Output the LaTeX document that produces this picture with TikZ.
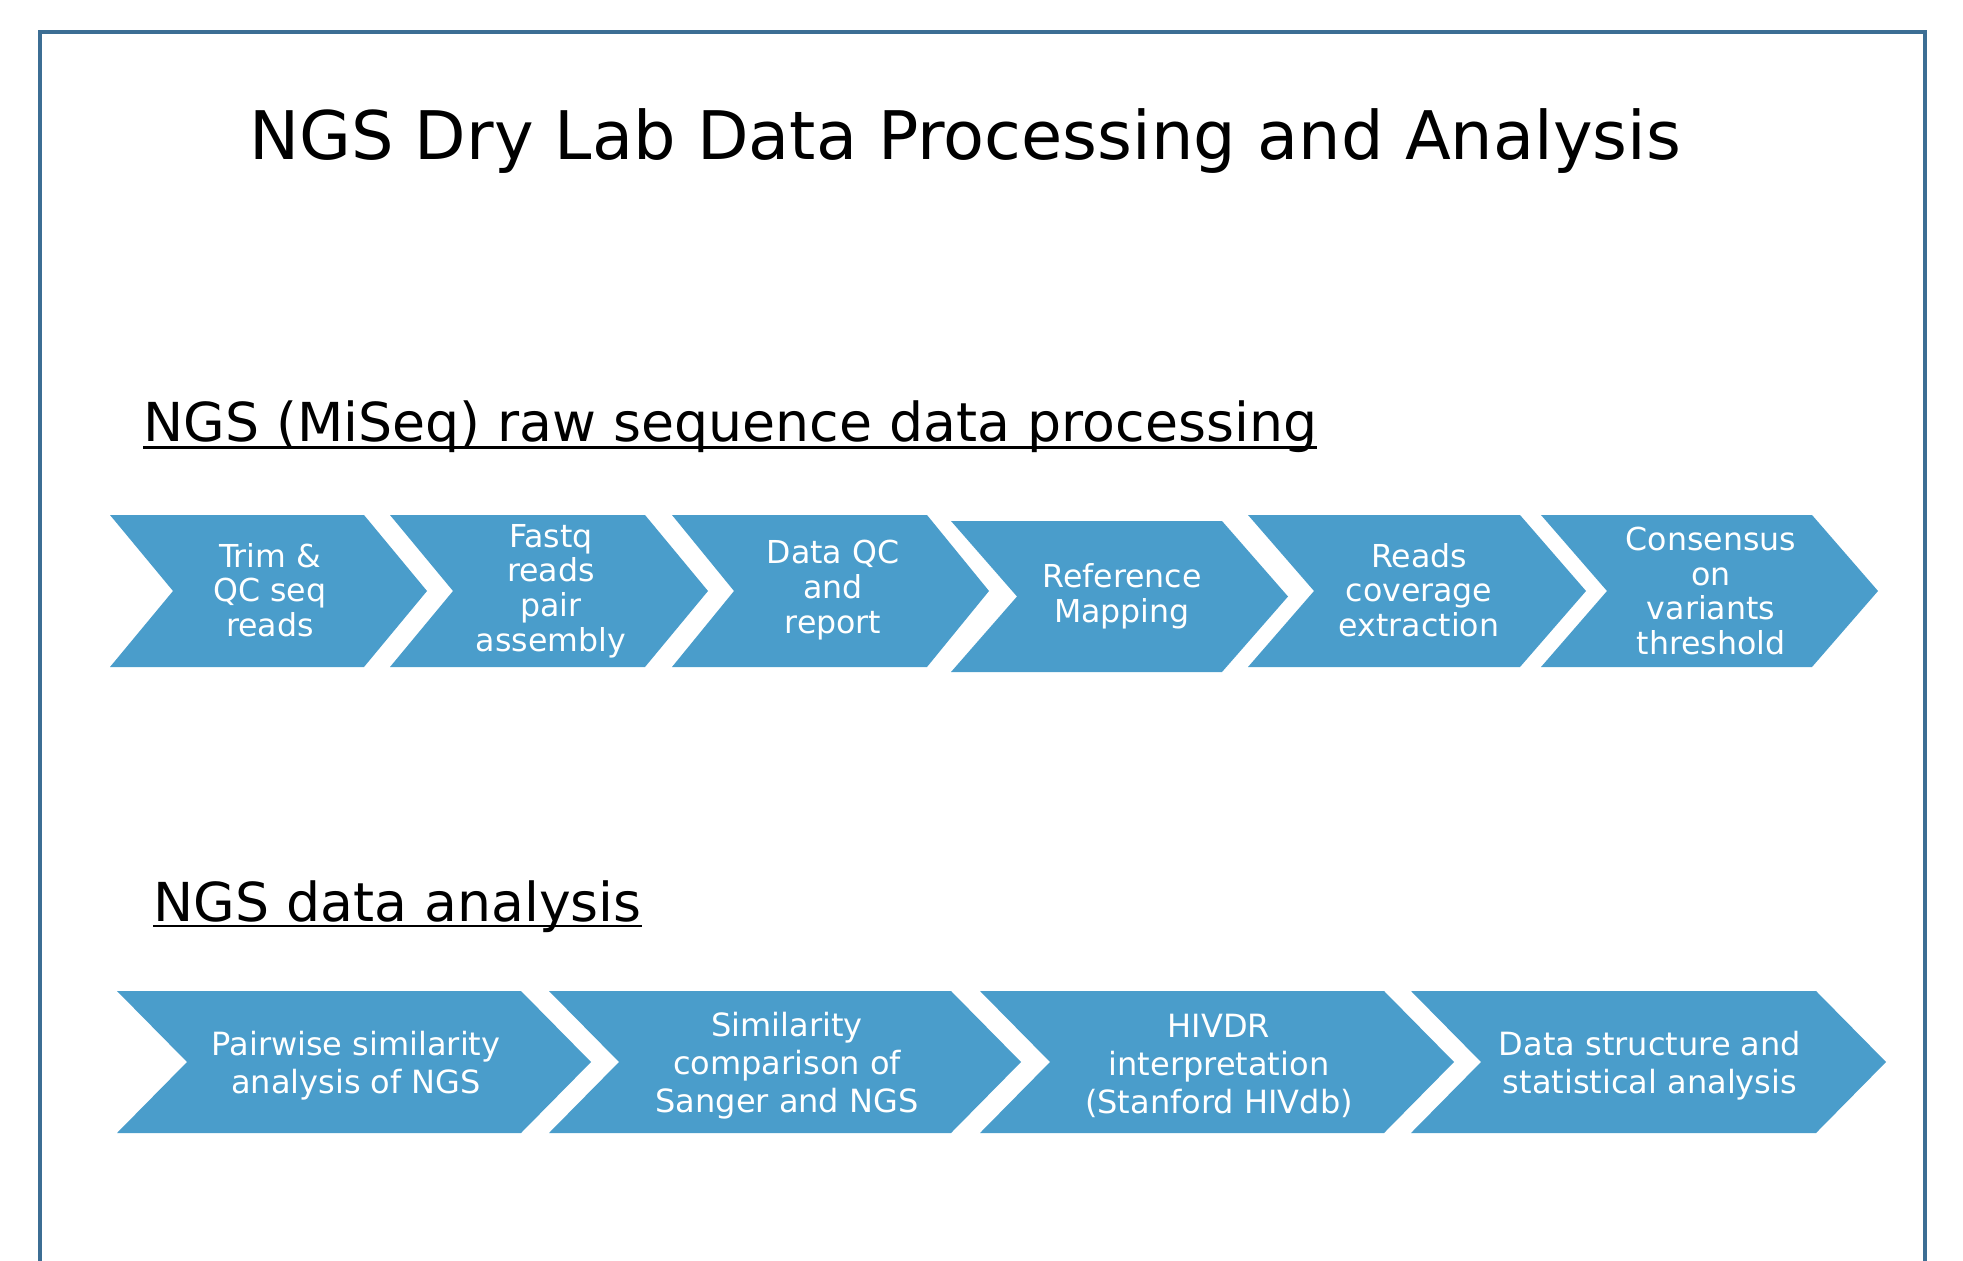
\documentclass[tikz,border=0pt]{standalone}
\usepackage{fontspec}
\setmainfont{DejaVu Sans}
\usetikzlibrary{positioning}

\definecolor{azulflecha}{RGB}{74,157,203}
\definecolor{azulmarco}{RGB}{60,110,148}

\tikzset{
	flecha/.style={fill=azulflecha, draw=none},
	texto/.style={text=white, align=center, inner sep=0pt, font=\fontsize{15.8}{17.3}\selectfont},
	textob/.style={text=white, align=center, inner sep=0pt, font=\fontsize{16}{19}\selectfont},
	subtitulo/.style={anchor=base west, inner sep=0pt, font=\fontsize{26.85}{30}\selectfont}
}

\begin{document}
\begin{tikzpicture}[x=0.5pt, y=-0.5pt]
	\useasboundingbox (0,0) rectangle (1963,1261);
	
	% Marco exterior (abierto por abajo)
	\draw[azulmarco, line width=1.6pt] (40,1300) -- (40,32) -- (1925,32) -- (1925,1300);
	
	% Titulo
	\node[anchor=base, inner sep=0pt, font=\fontsize{33.5}{38}\selectfont] (titulo) at (965,160) {NGS Dry Lab Data Processing and Analysis};
	
	% Primera fila: procesamiento
	\node[subtitulo] (sub1) at (143,441.7) {NGS (MiSeq) raw sequence data processing};
	\draw[line width=1.25pt] ([yshift=-2.8pt]sub1.base west) -- ([yshift=-2.8pt]sub1.base east);
	
	\fill[flecha] (110,515) -- (364,515) -- (427,591) -- (364,667) -- (110,667) -- (173,591) -- cycle;
	\fill[flecha] (390,515) -- (645,515) -- (708,591) -- (645,667) -- (390,667) -- (453,591) -- cycle;
	\fill[flecha] (672,515) -- (927,515) -- (989,591) -- (927,667) -- (672,667) -- (734,591) -- cycle;
	\fill[flecha] (951,521) -- (1222,521) -- (1288,596.5) -- (1222,672) -- (951,672) -- (1017,596.5) -- cycle;
	\fill[flecha] (1248,515) -- (1520,515) -- (1586,591) -- (1520,667) -- (1248,667) -- (1314,591) -- cycle;
	\fill[flecha] (1541,515) -- (1812,515) -- (1878,591) -- (1812,667) -- (1541,667) -- (1607,591) -- cycle;
	
	\node[texto] (c1) at (270,590) {Trim \&\\QC seq\\reads};
	\node[texto] (c2) at (551,591) {Fastq\\reads\\pair\\assembly};
	\node[texto] (c3) at (833,590) {Data QC\\and\\report};
	\node[texto] (c4) at (1122,596.5) {Reference\\Mapping};
	\node[texto] (c5) at (1419,590) {Reads\\coverage\\extraction};
	\node[texto] (c6) at (1711,591) {Consensus\\on\\variants\\threshold};
	
	% Segunda fila: analisis
	\node[subtitulo] (sub2) at (153,921) {NGS data analysis};
	\draw[line width=1.25pt] ([yshift=-2.5pt]sub2.base west) -- ([yshift=-2.5pt]sub2.base east);
	
	\fill[flecha] (117,991) -- (521,991) -- (591,1062) -- (521,1133) -- (117,1133) -- (187,1062) -- cycle;
	\fill[flecha] (549,991) -- (951,991) -- (1021,1062) -- (951,1133) -- (549,1133) -- (619,1062) -- cycle;
	\fill[flecha] (980,991) -- (1384,991) -- (1454,1062) -- (1384,1133) -- (980,1133) -- (1050,1062) -- cycle;
	\fill[flecha] (1411,991) -- (1816,991) -- (1886,1062) -- (1816,1133) -- (1411,1133) -- (1481,1062) -- cycle;
	
	\node[textob] (d1) at (356,1066) {Pairwise similarity\\analysis of NGS};
	\node[textob] (d2) at (787,1066) {Similarity\\comparison of\\Sanger and NGS};
	\node[textob] (d3) at (1219,1066) {HIVDR\\interpretation\\(Stanford HIVdb)};
	\node[textob] (d4) at (1650,1066) {Data structure and\\statistical analysis};
\end{tikzpicture}
\end{document}
